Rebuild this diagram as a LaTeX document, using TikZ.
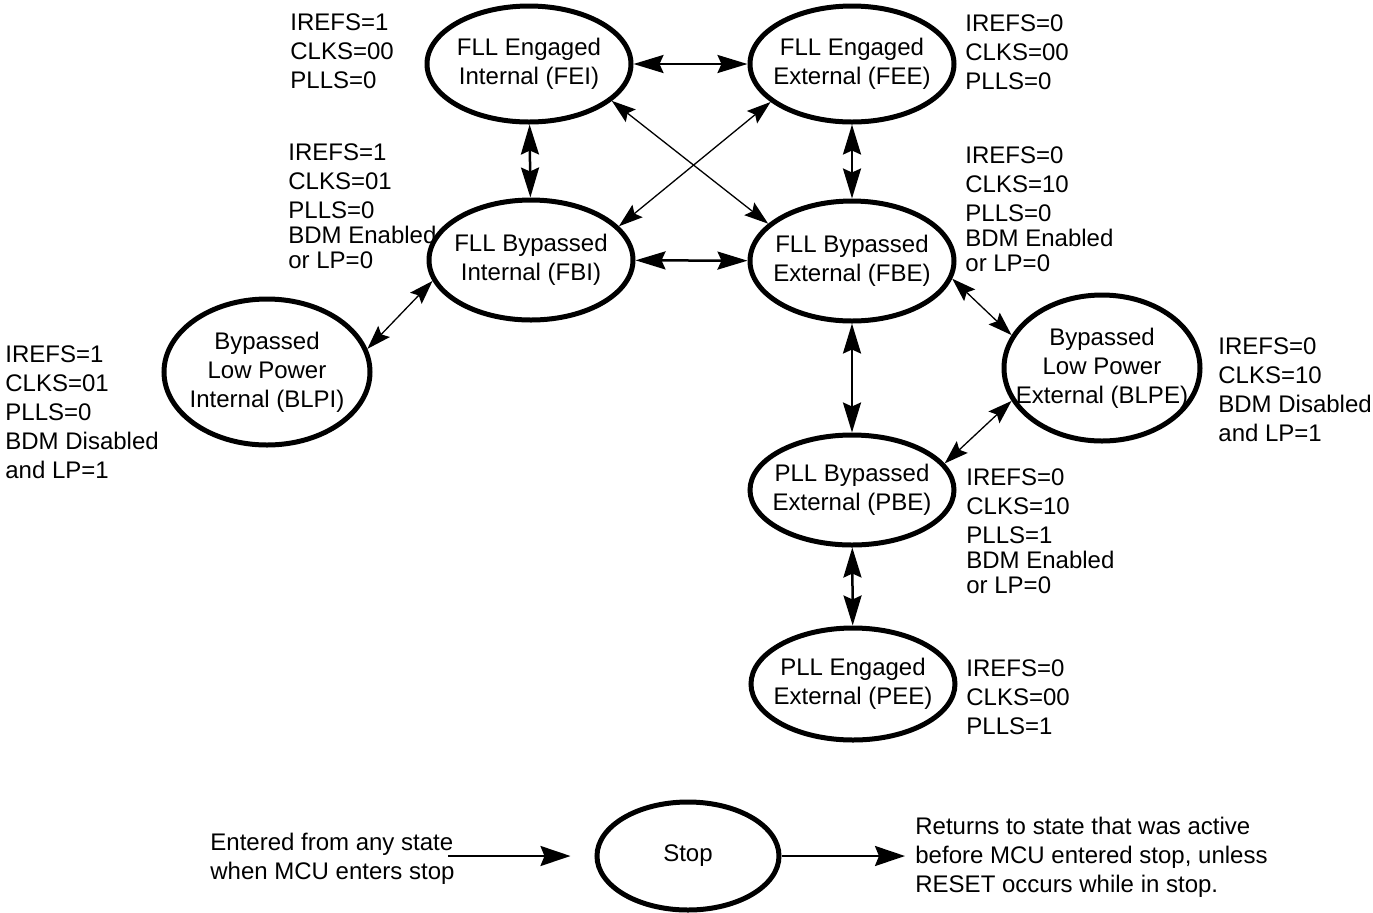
\documentclass[tikz,border=0pt]{standalone}
\usepackage{fontspec}
\setmainfont{Liberation Sans}
\usetikzlibrary{arrows.meta,positioning,shapes.geometric}

\begin{document}
\begin{tikzpicture}[
 x=0.5pt,y=-0.5pt,
 font=\fontsize{12}{14.5}\selectfont,
 state/.style={draw,ellipse,line width=2.5pt,inner ysep=0pt,inner xsep=-30pt,align=center,
   minimum width=102pt,minimum height=58pt},
 bigstate/.style={state,minimum height=73pt},
 regs/.style={anchor=west,align=left,inner sep=0pt},
 thk/.style={{Stealth[length=15pt,width=9pt,inset=2pt]}-{Stealth[length=15pt,width=9pt,inset=2pt]},line width=1.25pt},
 thn/.style={{Stealth[length=12pt,width=8pt,inset=2pt]}-{Stealth[length=12pt,width=8pt,inset=2pt]},line width=0.65pt},
 one/.style={-{Stealth[length=15pt,width=10pt,inset=2pt]},line width=1.25pt}]
\useasboundingbox (0,0) rectangle (1373,912);
\node[state] (fei) at (529,64) {FLL Engaged\\Internal (FEI)};
\node[state] (fee) at (852,64) {FLL Engaged\\External (FEE)};
\node[state,minimum height=60pt] (fbi) at (531,260) {FLL Bypassed\\Internal (FBI)};
\node[state,minimum height=60pt] (fbe) at (852,261) {FLL Bypassed\\External (FBE)};
\node[bigstate,minimum width=103pt] (blpi) at (267,372) {Bypassed\\Low Power\\Internal (BLPI)};
\node[bigstate,minimum width=98pt] (blpe) at (1102,368) {Bypassed\\Low Power\\External (BLPE)};
\node[state,minimum height=55pt] (pbe) at (852,490) {PLL Bypassed\\External (PBE)};
\node[state,minimum height=56pt] (pee) at (853,684) {PLL Engaged\\External (PEE)};
\node[state,minimum width=91pt,minimum height=54pt] (stop) at (688,856) {Stop};
\node[regs] (feilab) at (290,51) {IREFS=1\\CLKS=00\\PLLS=0};
\node[regs] (feelab) at (965,52) {IREFS=0\\CLKS=00\\PLLS=0};
\node[regs] (fbilab) at (288,206) {IREFS=1\\CLKS=01\\PLLS=0\\[-2pt]BDM Enabled\\[-2pt]or LP=0};
\node[regs] (fbelab) at (965,209) {IREFS=0\\CLKS=10\\PLLS=0\\[-2pt]BDM Enabled\\[-2pt]or LP=0};
\node[regs] (blpilab) at (5,412) {IREFS=1\\CLKS=01\\PLLS=0\\BDM Disabled\\and LP=1};
\node[regs] (blpelab) at (1218,390) {IREFS=0\\CLKS=10\\BDM Disabled\\and LP=1};
\node[regs] (pbelab) at (966,531) {IREFS=0\\CLKS=10\\PLLS=1\\[-2pt]BDM Enabled\\[-2pt]or LP=0};
\node[regs] (peelab) at (966,697) {IREFS=0\\CLKS=00\\PLLS=1};
\node[regs] (entlab) at (210,859) {Entered from any state\\when MCU enters stop};
\node[regs] (retlab) at (915,857) {Returns to state that was active\\before MCU entered stop, unless\\RESET occurs while in stop.};
\coordinate (entry) at (448,856);
\coordinate (exit) at (905,856);
\draw[thk] (fei) -- (fee);
\draw[thk] (fei) -- (fbi);
\draw[thk] (fee) -- (fbe);
\draw[thk] (fbi) -- (fbe);
\draw[thn] (fei.-24) -- (fbe.156);
\draw[thn] (fee.205) -- (fbi.21);
\draw[thn] (fbi.192) -- (blpi.13);
\draw[thn] (fbe.-10) -- (blpe.160);
\draw[thk] (fbe) -- (pbe);
\draw[thn] (blpe.200) -- (pbe.16);
\draw[thk] (pbe) -- (pee);
\draw[one,shorten >=12pt] (entry) -- (stop);
\draw[one] (stop) -- (exit);
\end{tikzpicture}
\end{document}
